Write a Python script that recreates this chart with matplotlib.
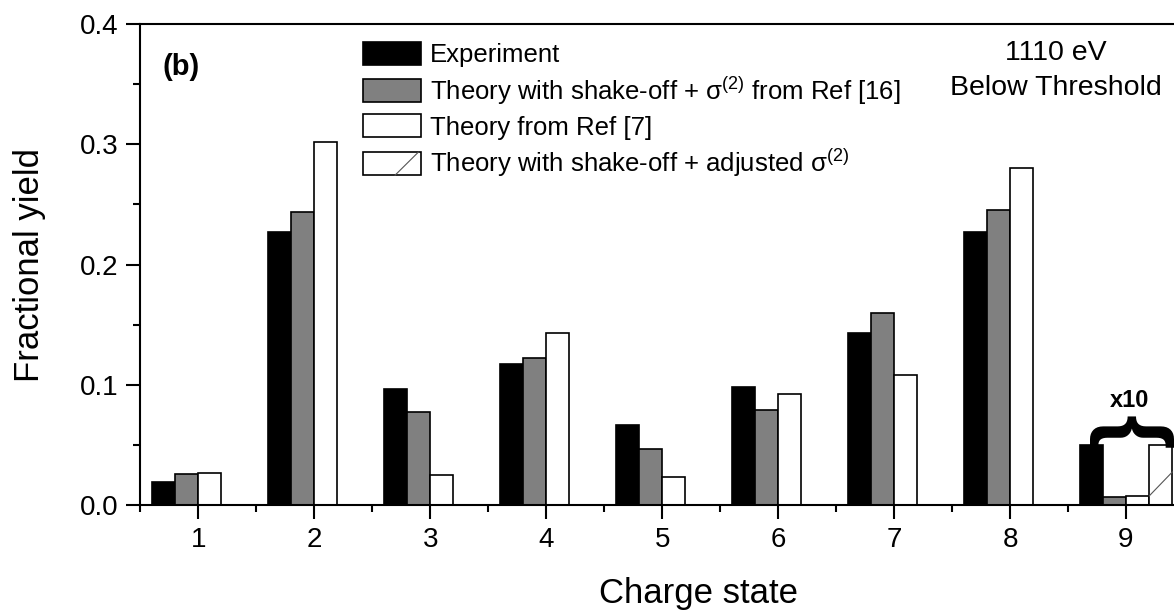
import matplotlib.pyplot as plt
from matplotlib.ticker import MultipleLocator
from matplotlib.patches import Rectangle
from matplotlib.lines import Line2D
from matplotlib.legend_handler import HandlerBase

plt.rcParams['font.family'] = ['Liberation Sans', 'DejaVu Sans']
plt.rcParams['mathtext.fontset'] = 'custom'
plt.rcParams['mathtext.rm'] = 'Liberation Sans'
plt.rcParams['mathtext.it'] = 'Liberation Sans'

# charge states
charge = [1, 2, 3, 4, 5, 6, 7, 8, 9]
experiment = [0.019, 0.227, 0.0965, 0.117, 0.0665, 0.098, 0.143, 0.227, 0.050]
theory_ref16 = [0.026, 0.244, 0.077, 0.122, 0.0466, 0.079, 0.160, 0.245, 0.0066]
theory_ref7 = [0.027, 0.302, 0.025, 0.143, 0.023, 0.092, 0.108, 0.280, 0.0075]
theory_adjusted = [0, 0, 0, 0, 0, 0, 0, 0, 0.050]


class OneSlash(HandlerBase):
    # white box with a single thin diagonal, like the origin pattern
    def create_artists(self, legend, orig, xd, yd, width, height, fontsize, trans):
        r = Rectangle((-xd, -yd), width, height, facecolor='white', edgecolor='black',
                      linewidth=1.2, transform=trans)
        l = Line2D([-xd + width * 0.55, -xd + width * 0.95], [-yd, -yd + height],
                   color='#555555', linewidth=0.8, transform=trans)
        return [r, l]


fig = plt.figure(figsize=(11.74, 6.15), dpi=100)
ax = fig.add_axes([0.1195, 0.1789, 0.889, 0.782])

w = 0.2
ax.bar([c - 1.5 * w for c in charge], experiment, w, color='black', edgecolor='black',
       linewidth=1.2, label='Experiment')
ax.bar([c - 0.5 * w for c in charge], theory_ref16, w, color='#808080', edgecolor='black',
       linewidth=1.2, label='Theory with shake-off + σ$^{(2)}$ from Ref [16]')
ax.bar([c + 0.5 * w for c in charge], theory_ref7, w, color='white', edgecolor='black',
       linewidth=1.2, label='Theory from Ref [7]')
adj = ax.bar([c + 1.5 * w for c in charge], theory_adjusted, w, color='white', edgecolor='black',
             linewidth=1.2, label='Theory with shake-off + adjusted σ$^{(2)}$')
# single diagonal inside the non-empty adjusted bar
for p in adj.patches:
    if p.get_height() > 0:
        ax.plot([p.get_x(), p.get_x() + p.get_width()],
                [p.get_height() * 0.15, p.get_height() * 0.55],
                color='#555555', linewidth=0.8, clip_on=False)

ax.set_xlim(0.5, 9.5)
ax.set_ylim(0, 0.4)
ax.set_xticks(charge)
ax.set_yticks([0.0, 0.1, 0.2, 0.3, 0.4])
ax.set_yticklabels(['0.0', '0.1', '0.2', '0.3', '0.4'])
ax.xaxis.set_minor_locator(MultipleLocator(0.5))
ax.yaxis.set_minor_locator(MultipleLocator(0.05))
ax.tick_params(which='major', direction='out', length=10, width=1.5, labelsize=20, pad=6)
ax.tick_params(which='minor', direction='out', length=5, width=1.5)
ax.spines['right'].set_visible(False)
for s in ['left', 'bottom', 'top']:
    ax.spines[s].set_linewidth(1.5)

ax.set_xlabel('Charge state', fontsize=25)
ax.set_ylabel('Fractional yield', fontsize=25)
ax.xaxis.set_label_coords(0.535, -0.15)
ax.yaxis.set_label_coords(-0.09, 0.5)

ax.text(0.021, 0.91, '(b)', transform=ax.transAxes, fontsize=21, fontweight='bold',
        va='center')
ax.text(0.877, 0.94, '1110 eV', transform=ax.transAxes, fontsize=20.5, ha='center', va='center')
ax.text(0.877, 0.866, 'Below Threshold', transform=ax.transAxes, fontsize=20.5, ha='center', va='center')

# x10 brace over group 9
ax.text(9.03, 0.0605, '{', rotation=-90, fontsize=64, fontweight='bold', ha='center', va='center')
ax.text(9.03, 0.0865, 'x10', fontsize=17, fontweight='bold', ha='center', va='center')

h, lab = ax.get_legend_handles_labels()
ax.legend(h, lab, loc='upper left', bbox_to_anchor=(0.2, 0.993), frameon=False, fontsize=18.5,
          handlelength=2.26, handleheight=1.0, handletextpad=0.35, labelspacing=0.3,
          borderaxespad=0.15, handler_map={h[3]: OneSlash()})

fig.savefig('out.png', dpi=100)
